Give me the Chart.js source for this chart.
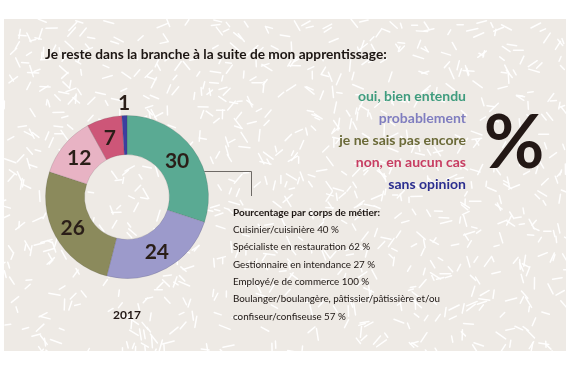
<!DOCTYPE html>
<html lang="fr">
<head>
<meta charset="utf-8">
<script src="https://cdn.jsdelivr.net/npm/chart.js@4.4.1/dist/chart.umd.min.js"></script>
<style>
  html, body { margin: 0; padding: 0; background: #fff; }
  #wrap { width: 570px; height: 365px; }
</style>
</head>
<body>
<div id="wrap"><canvas id="chartBranche" width="570" height="365"></canvas></div>
<script>
// donnees
const categories = ['oui, bien entendu', 'probablement', 'je ne sais pas encore', '', 'non, en aucun cas', 'sans opinion'];
const values = [30, 24, 26, 12, 7, 1];
const sliceColors = ['#5aaa93', '#9c9acb', '#8b8a5c', '#e8b3c4', '#cd5678', '#3c3fa0'];
const legendColors = ['#3f9c7e', '#7f7dbf', '#6b6a38', '', '#c73c61', '#2b2e8f'];
const title = 'Je reste dans la branche à la suite de mon apprentissage:';
const yearLabel = '2017';
const noteTitle = 'Pourcentage par corps de métier:';
const noteLines = [
    'Cuisinier/cuisinière 40 %',
    'Spécialiste en restauration 62 %',
    'Gestionnaire en intendance 27 %',
    'Employé/e de commerce 100 %',
    'Boulanger/boulangère, pâtissier/pâtissière et/ou',
    'confiseur/confiseuse 57 %'
];

const FONT = 'Lato, "Open Sans", sans-serif';

// petit generateur pseudo-aleatoire fixe pour la texture du fond
function seeded(seed) {
    let s = seed;
    return () => {
        s = (s * 1103515245 + 12345) % 2147483648;
        return s / 2147483648;
    };
}

const decorPlugin = {
    id: 'decor',
    beforeDraw(chart) {
        const ctx = chart.ctx;
        ctx.save();
        ctx.fillStyle = '#ffffff';
        ctx.fillRect(0, 0, chart.width, chart.height);
        ctx.fillStyle = '#eeeae5';
        ctx.fillRect(4, 19, 562, 332);

        // texture de traits blancs
        const rnd = seeded(7);
        ctx.beginPath();
        ctx.rect(4, 19, 562, 332);
        ctx.clip();
        ctx.strokeStyle = 'rgba(255,255,255,0.95)';
        ctx.lineWidth = 1.5;
        ctx.lineCap = 'round';
        for (let i = 0; i < 950; i++) {
            const x = 4 + rnd() * 562;
            const y = 19 + rnd() * 332;
            const a = rnd() * Math.PI;
            const len = 5 + rnd() * 7;
            ctx.beginPath();
            ctx.moveTo(x, y);
            ctx.lineTo(x + Math.cos(a) * len, y + Math.sin(a) * len);
            ctx.stroke();
        }
        ctx.restore();

        ctx.save();
        ctx.fillStyle = '#1c1512';
        ctx.font = 'bold 13.7px ' + FONT;
        ctx.textBaseline = 'alphabetic';
        ctx.fillText(title, 45, 59);

        // legende
        ctx.font = 'bold 14px ' + FONT;
        ctx.textAlign = 'right';
        ctx.textBaseline = 'middle';
        let ly = 96;
        categories.forEach((c, i) => {
            if (!c) return;
            ctx.fillStyle = legendColors[i];
            ctx.fillText(c, 466, ly);
            ly += 22;
        });

        // grand signe %
        ctx.fillStyle = '#231815';
        ctx.textAlign = 'center';
        ctx.textBaseline = 'middle';
        ctx.font = 'bold 74px ' + FONT;
        ctx.fillText('%', 514, 144);

        // annee
        ctx.font = 'bold 12px ' + FONT;
        ctx.fillText(yearLabel, 127, 315);

        // trait de renvoi
        const meta = chart.getDatasetMeta(0);
        const arc = meta.data[0];
        const ty = 171;
        const tx = arc.x + Math.sqrt(arc.outerRadius * arc.outerRadius - (ty - arc.y) * (ty - arc.y));
        ctx.strokeStyle = '#6e6a66';
        ctx.lineWidth = 1;
        ctx.beginPath();
        ctx.moveTo(tx, ty + 0.5);
        ctx.lineTo(251.5, ty + 0.5);
        ctx.lineTo(251.5, 196);
        ctx.stroke();

        // notes
        ctx.textAlign = 'left';
        ctx.fillStyle = '#1c1512';
        ctx.font = 'bold 10px ' + FONT;
        ctx.fillText(noteTitle, 233, 213);
        ctx.font = '9.8px ' + FONT;
        noteLines.forEach((t, i) => ctx.fillText(t, 233, 230 + i * 17.3));
        ctx.restore();
    },
    afterDatasetsDraw(chart) {
        const ctx = chart.ctx;
        const meta = chart.getDatasetMeta(0);
        ctx.save();
        ctx.fillStyle = '#2a1e18';
        ctx.font = 'bold 21px ' + FONT;
        ctx.textAlign = 'center';
        ctx.textBaseline = 'middle';
        meta.data.forEach((arc, i) => {
            const p = arc.getProps(['x', 'y', 'startAngle', 'endAngle', 'innerRadius', 'outerRadius']);
            const mid = (p.startAngle + p.endAngle) / 2;
            let r = (p.innerRadius + p.outerRadius) / 2;
            if (values[i] < 3) r = p.outerRadius + 13;
            ctx.fillText(String(values[i]), p.x + Math.cos(mid) * r, p.y + Math.sin(mid) * r + 1);
        });
        ctx.restore();
    }
};

new Chart(document.getElementById('chartBranche').getContext('2d'), {
    type: 'doughnut',
    data: {
        labels: categories,
        datasets: [{
            data: values,
            backgroundColor: sliceColors,
            borderColor: 'rgba(60,60,60,0.15)',
            borderWidth: 1
        }]
    },
    options: {
        responsive: false,
        animation: false,
        cutout: '52%',
        layout: { padding: { left: 45, top: 115, right: 361, bottom: 86 } },
        plugins: {
            legend: { display: false },
            tooltip: { enabled: false }
        }
    },
    plugins: [decorPlugin]
});
</script>
</body>
</html>
